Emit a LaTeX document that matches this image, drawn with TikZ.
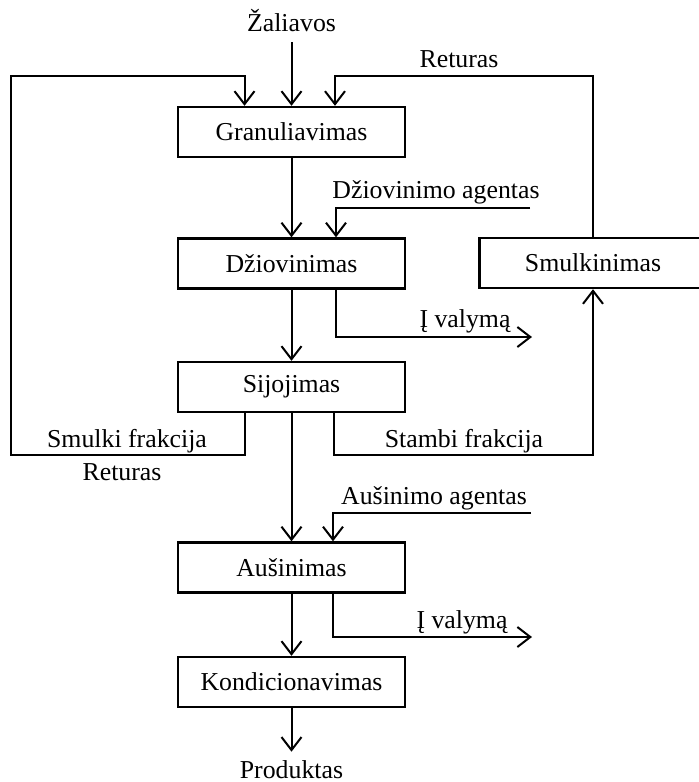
\documentclass[tikz,border=0pt]{standalone}
\usepackage{fontspec}
\setmainfont{Liberation Serif}
\usetikzlibrary{arrows.meta}
\begin{document}
\begin{tikzpicture}[x=0.5pt,y=-0.5pt,
  box/.style={draw,line width=1.2pt,minimum width=113.5pt,minimum height=25pt,inner sep=0pt,font=\fontsize{12.9}{15}\selectfont},
  lbl/.style={anchor=base,inner sep=0pt,font=\fontsize{12.9}{15}\selectfont},
  arr/.style={line width=1pt,-{Straight Barb[length=6.5pt,width=10pt]}},
  ln/.style={line width=1pt}]
\useasboundingbox (0,0) rectangle (698,782);

% process boxes
\node[box] (gran) at (291.5,132)   {Granuliavimas};
\node[box] (dz)   at (291.5,263.5) {Džiovinimas};
\node[box] (sij)  at (291.5,387)   {Sijojimas};
\node[box] (aus)  at (291.5,567.5) {Aušinimas};
\node[box] (kond) at (291.5,682)   {Kondicionavimas};
\node[box] (smul) at (593,263)     {Smulkinimas};

% labels
\node[lbl,inner sep=5pt] (zal) at (291.5,31.7) {Žaliavos};
\node[lbl] (ret1) at (459,67) {Returas};
\node[lbl] (dagt) at (436,198) {Džiovinimo agentas};
\node[lbl] (v1t) at (465,327) {Į valymą};
\node[lbl] (smft) at (127,447) {Smulki frakcija};
\node[lbl] (stft) at (464,447) {Stambi frakcija};
\node[lbl] (ret2) at (122,480) {Returas};
\node[lbl] (aagt) at (434,504) {Aušinimo agentas};
\node[lbl] (v2t) at (462,628) {Į valymą};
\node[lbl,inner sep=4pt] (prod) at (291.5,778) {Produktas};

% helper coordinates
\coordinate (retL) at (11,76);
\coordinate (frL)  at (244.5,455);
\coordinate (frR)  at (333.5,455);
\coordinate (retR) at (335,76);
\coordinate (dag)  at (530,208);
\coordinate (dagx) at (336,208);
\coordinate (v1)   at (532,337);
\coordinate (aag)  at (531,513);
\coordinate (aagx) at (333,513);
\coordinate (v2)   at (532,637);

% main flow
\draw[arr] (zal.south) -- (gran.north);
\draw[arr] (gran.south) -- (dz.north);
\draw[arr] (dz.south) -- (sij.north);
\draw[arr] (sij.south) -- (aus.north);
\draw[arr] (aus.south) -- (kond.north);
\draw[arr] (kond.south) -- (prod.north);

% returns
\draw[arr] (sij.south -| frL) -- (frL) -| (retL) -| (gran.north -| frL);
\draw[arr] (sij.south -| frR) -- (frR) -| (smul.south);
\draw[arr] (smul.north) |- (retR) -- (gran.north -| retR);

% agents and exhausts
\draw[arr] (dag) -- (dagx) -- (dz.north -| dagx);
\draw[arr] (dz.south -| dagx) |- (v1);
\draw[arr] (aag) -- (aagx) -- (aus.north -| aagx);
\draw[arr] (aus.south -| aagx) |- (v2);
\end{tikzpicture}
\end{document}
